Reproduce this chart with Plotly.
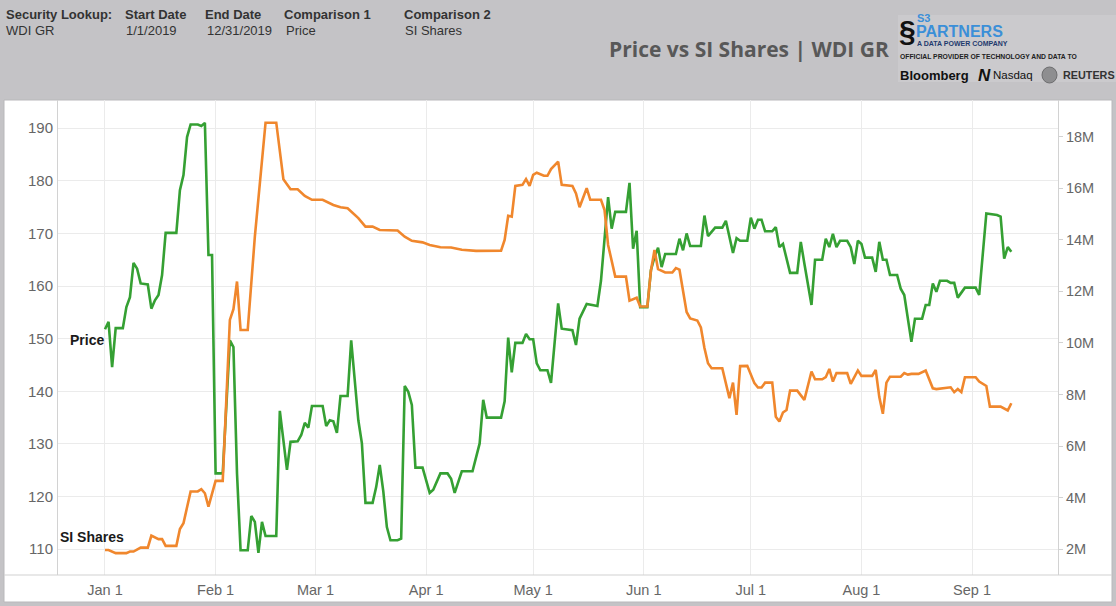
import plotly.graph_objects as go

# ---------------- data ----------------
price_dates = [
    "2019-01-01", "2019-01-02", "2019-01-03", "2019-01-04", "2019-01-06", "2019-01-07", "2019-01-08",
    "2019-01-09", "2019-01-10", "2019-01-11", "2019-01-13", "2019-01-14", "2019-01-15", "2019-01-16",
    "2019-01-17", "2019-01-18", "2019-01-21", "2019-01-22", "2019-01-23", "2019-01-24", "2019-01-25",
    "2019-01-27", "2019-01-28", "2019-01-29", "2019-01-30", "2019-01-31", "2019-02-01", "2019-02-03",
    "2019-02-05", "2019-02-06", "2019-02-07", "2019-02-08", "2019-02-10", "2019-02-11", "2019-02-12",
    "2019-02-13", "2019-02-14", "2019-02-15", "2019-02-18", "2019-02-19", "2019-02-21", "2019-02-22",
    "2019-02-24", "2019-02-25", "2019-02-26", "2019-02-27", "2019-02-28", "2019-03-03", "2019-03-04",
    "2019-03-05", "2019-03-06", "2019-03-07", "2019-03-08", "2019-03-10", "2019-03-11", "2019-03-13",
    "2019-03-14", "2019-03-15", "2019-03-17", "2019-03-18", "2019-03-19", "2019-03-20", "2019-03-21",
    "2019-03-22", "2019-03-24", "2019-03-25", "2019-03-26", "2019-03-27", "2019-03-28", "2019-03-29",
    "2019-03-31", "2019-04-02", "2019-04-03", "2019-04-05", "2019-04-07", "2019-04-08", "2019-04-09",
    "2019-04-11", "2019-04-14", "2019-04-16", "2019-04-17", "2019-04-18", "2019-04-22", "2019-04-23",
    "2019-04-24", "2019-04-25", "2019-04-26", "2019-04-28", "2019-04-29", "2019-04-30", "2019-05-01",
    "2019-05-02", "2019-05-03", "2019-05-05", "2019-05-06", "2019-05-08", "2019-05-09", "2019-05-12",
    "2019-05-13", "2019-05-14", "2019-05-16", "2019-05-19", "2019-05-20", "2019-05-22", "2019-05-23",
    "2019-05-24", "2019-05-27", "2019-05-28", "2019-05-29", "2019-05-30", "2019-05-31", "2019-06-02",
    "2019-06-03", "2019-06-04", "2019-06-05", "2019-06-06", "2019-06-07", "2019-06-10", "2019-06-11",
    "2019-06-12", "2019-06-13", "2019-06-14", "2019-06-17", "2019-06-18", "2019-06-19", "2019-06-21",
    "2019-06-23", "2019-06-24", "2019-06-26", "2019-06-27", "2019-06-28", "2019-06-30", "2019-07-01",
    "2019-07-02", "2019-07-03", "2019-07-04", "2019-07-05", "2019-07-07", "2019-07-08", "2019-07-09",
    "2019-07-10", "2019-07-11", "2019-07-12", "2019-07-14", "2019-07-15", "2019-07-16", "2019-07-18",
    "2019-07-19", "2019-07-21", "2019-07-22", "2019-07-23", "2019-07-24", "2019-07-25", "2019-07-26",
    "2019-07-28", "2019-07-29", "2019-07-30", "2019-07-31", "2019-08-01", "2019-08-02", "2019-08-04",
    "2019-08-05", "2019-08-06", "2019-08-07", "2019-08-08", "2019-08-09", "2019-08-11", "2019-08-12",
    "2019-08-13", "2019-08-15", "2019-08-16", "2019-08-18", "2019-08-19", "2019-08-20", "2019-08-21",
    "2019-08-22", "2019-08-23", "2019-08-25", "2019-08-26", "2019-08-27", "2019-08-28", "2019-08-30",
    "2019-09-02", "2019-09-03", "2019-09-05", "2019-09-08", "2019-09-09", "2019-09-10", "2019-09-11",
    "2019-09-12",
]
price_values = [
    151.8, 153.2, 144.6, 152.0, 152.0, 156.0, 157.9,
    164.4, 163.3, 160.5, 160.3, 155.7, 157.3, 158.3,
    162.1, 170.1, 170.1, 178.2, 181.1, 188.3, 190.7,
    190.7, 190.4, 191.0, 165.9, 165.9, 124.4, 124.4,
    149.7, 148.4, 124.4, 109.8, 109.8, 116.3, 115.2,
    109.3, 115.2, 112.5, 112.5, 136.3, 125.1, 130.4,
    130.5, 131.7, 134.0, 133.1, 137.2, 137.2, 133.4,
    134.5, 134.3, 132.1, 139.1, 139.1, 149.7, 134.5,
    130.1, 118.8, 118.8, 121.8, 126.0, 121.0, 114.2,
    111.7, 111.7, 112.0, 141.0, 139.9, 137.4, 125.5,
    125.5, 120.7, 121.3, 124.4, 124.4, 123.4, 120.7,
    124.8, 124.8, 130.1, 138.4, 135.0, 135.0, 138.1,
    150.2, 143.6, 149.2, 149.2, 150.9, 149.9, 149.9,
    145.3, 144.0, 144.0, 141.6, 156.7, 151.9, 151.6,
    148.8, 153.8, 156.6, 156.2, 161.0, 176.9, 170.9,
    174.1, 174.1, 179.6, 167.1, 170.5, 156.0, 156.0,
    163.0, 165.5, 167.3, 163.6, 166.1, 166.1, 169.0,
    166.8, 170.0, 167.6, 167.6, 173.4, 169.5, 171.1,
    171.1, 172.4, 166.3, 169.1, 168.6, 168.6, 173.0,
    170.9, 172.6, 172.6, 170.4, 170.4, 171.2, 167.4,
    168.0, 165.0, 162.5, 162.5, 168.4, 164.3, 156.4,
    165.0, 165.0, 169.0, 167.4, 169.9, 167.4, 168.6,
    168.6, 167.4, 164.2, 168.6, 168.0, 165.4, 165.4,
    162.7, 168.4, 165.0, 165.0, 162.1, 162.1, 159.5,
    158.3, 149.4, 153.8, 153.8, 156.4, 156.4, 160.5,
    158.9, 161.0, 161.0, 160.6, 160.6, 157.8, 159.7,
    159.7, 158.3, 173.8, 173.5, 173.2, 165.2, 167.4,
    166.5,
]

si_dates = [
    "2019-01-01", "2019-01-02", "2019-01-04", "2019-01-07", "2019-01-08", "2019-01-09", "2019-01-11",
    "2019-01-13", "2019-01-14", "2019-01-16", "2019-01-17", "2019-01-18", "2019-01-21", "2019-01-22",
    "2019-01-23", "2019-01-25", "2019-01-27", "2019-01-28", "2019-01-29", "2019-01-30", "2019-02-01",
    "2019-02-03", "2019-02-05", "2019-02-06", "2019-02-07", "2019-02-08", "2019-02-10", "2019-02-12",
    "2019-02-15", "2019-02-18", "2019-02-20", "2019-02-22", "2019-02-24", "2019-02-26", "2019-02-28",
    "2019-03-03", "2019-03-06", "2019-03-08", "2019-03-10", "2019-03-13", "2019-03-15", "2019-03-17",
    "2019-03-19", "2019-03-24", "2019-03-26", "2019-03-28", "2019-03-31", "2019-04-02", "2019-04-05",
    "2019-04-08", "2019-04-11", "2019-04-15", "2019-04-22", "2019-04-23", "2019-04-24", "2019-04-25",
    "2019-04-26", "2019-04-28", "2019-04-29", "2019-04-30", "2019-05-01", "2019-05-02", "2019-05-04",
    "2019-05-05", "2019-05-06", "2019-05-08", "2019-05-09", "2019-05-12", "2019-05-13", "2019-05-14",
    "2019-05-16", "2019-05-17", "2019-05-20", "2019-05-21", "2019-05-22", "2019-05-24", "2019-05-27",
    "2019-05-28", "2019-05-30", "2019-05-31", "2019-06-02", "2019-06-03", "2019-06-04", "2019-06-05",
    "2019-06-07", "2019-06-09", "2019-06-10", "2019-06-11", "2019-06-13", "2019-06-14", "2019-06-16",
    "2019-06-17", "2019-06-18", "2019-06-19", "2019-06-20", "2019-06-23", "2019-06-25", "2019-06-26",
    "2019-06-27", "2019-06-28", "2019-06-30", "2019-07-02", "2019-07-03", "2019-07-04", "2019-07-05",
    "2019-07-07", "2019-07-08", "2019-07-09", "2019-07-10", "2019-07-11", "2019-07-12", "2019-07-14",
    "2019-07-16", "2019-07-18", "2019-07-19", "2019-07-21", "2019-07-22", "2019-07-23", "2019-07-24",
    "2019-07-25", "2019-07-28", "2019-07-29", "2019-07-31", "2019-08-01", "2019-08-04", "2019-08-05",
    "2019-08-06", "2019-08-07", "2019-08-08", "2019-08-09", "2019-08-12", "2019-08-13", "2019-08-14",
    "2019-08-15", "2019-08-17", "2019-08-19", "2019-08-21", "2019-08-22", "2019-08-26", "2019-08-27",
    "2019-08-28", "2019-08-29", "2019-08-30", "2019-09-02", "2019-09-03", "2019-09-05", "2019-09-06",
    "2019-09-09", "2019-09-11", "2019-09-12",
]
si_values_m = [
    1.97, 1.97, 1.85, 1.85, 1.91, 1.91, 2.06,
    2.06, 2.53, 2.39, 2.39, 2.13, 2.13, 2.78,
    3.01, 4.24, 4.24, 4.33, 4.17, 3.65, 4.65,
    4.65, 10.89, 11.31, 12.38, 10.50, 10.50, 14.12,
    18.54, 18.54, 16.35, 15.96, 15.96, 15.70, 15.55,
    15.55, 15.35, 15.26, 15.22, 14.84, 14.51, 14.51,
    14.38, 14.36, 14.12, 13.96, 13.90, 13.80, 13.71,
    13.70, 13.61, 13.57, 13.58, 13.99, 14.93, 14.90,
    16.09, 16.13, 16.35, 16.09, 16.52, 16.60, 16.48,
    16.48, 16.74, 17.03, 16.13, 16.09, 15.80, 15.26,
    16.00, 15.55, 15.55, 15.15, 13.80, 12.57, 12.57,
    11.64, 11.75, 11.41, 11.41, 12.80, 13.60, 12.86,
    12.73, 12.73, 12.90, 12.84, 11.20, 10.95, 10.87,
    10.60, 9.80, 9.21, 9.02, 9.02, 7.86, 8.46,
    7.21, 9.10, 9.11, 8.44, 8.27, 8.27, 8.46,
    8.46, 7.14, 6.95, 7.30, 7.40, 8.15, 8.15,
    7.79, 8.89, 8.59, 8.59, 8.67, 8.99, 8.50,
    8.83, 8.83, 8.41, 8.93, 8.72, 8.72, 8.95,
    7.90, 7.25, 8.46, 8.69, 8.69, 8.83, 8.77,
    8.80, 8.80, 8.93, 8.24, 8.21, 8.28, 8.09,
    8.21, 8.09, 8.67, 8.67, 8.50, 8.33, 7.53,
    7.53, 7.38, 7.66,
]
si_values = [v * 1e6 for v in si_values_m]

price_ticks = [110, 120, 130, 140, 150, 160, 170, 180, 190]
si_ticks = [2e6, 4e6, 6e6, 8e6, 10e6, 12e6, 14e6, 16e6, 18e6]
si_tick_labels = ["2M", "4M", "6M", "8M", "10M", "12M", "14M", "16M", "18M"]

header_labels = ["Security Lookup:", "Start Date", "End Date", "Comparison 1", "Comparison 2"]
header_values = ["WDI GR", "1/1/2019", "12/31/2019", "Price", "SI Shares"]
chart_title = "Price vs SI Shares | WDI GR"
series_names = ["Price", "SI Shares"]

# ---------------- layout helpers ----------------
W, H = 1116, 606
ML, MR, MT, MB = 58, 58, 100, 31
PW, PH = W - ML - MR, H - MT - MB


def px(x):
    return (x - ML) / PW


def py(y):
    return (H - MB - y) / PH


FONT = "Liberation Sans, Arial, sans-serif"
GREEN = "#35a033"
ORANGE = "#f0872d"

fig = go.Figure()
fig.add_trace(go.Scatter(x=price_dates, y=price_values, mode="lines", name=series_names[0],
                         line=dict(color=GREEN, width=2.6), yaxis="y"))
fig.add_trace(go.Scatter(x=si_dates, y=si_values, mode="lines", name=series_names[1],
                         line=dict(color=ORANGE, width=2.6), yaxis="y2"))

shapes = [
    # white panel
    dict(type="rect", xref="paper", yref="paper", x0=px(4), x1=px(1112), y0=py(602), y1=py(100),
         fillcolor="white", line=dict(color="#b9b8bb", width=1), layer="below"),
    # logo box
    dict(type="rect", xref="paper", yref="paper", x0=px(898), x1=px(1120), y0=py(82), y1=py(15),
         fillcolor="#cbcacd", line=dict(width=0), layer="below"),
    # bottom axis line spanning the panel
    dict(type="line", xref="paper", yref="paper", x0=px(4), x1=px(1112), y0=0, y1=0,
         line=dict(color="#d2d2d2", width=1.2)),
    # reuters circle
    dict(type="circle", xref="paper", yref="paper", x0=px(1042), x1=px(1057), y0=py(83), y1=py(67),
         fillcolor="#8e8e90", line=dict(color="#6d6d6f", width=1)),
]

ann = []
hx = [5, 124, 204, 283, 403]
vx = [5, 125, 206, 285, 404]
for lab, x in zip(header_labels, hx):
    ann.append(dict(text="<b>" + lab + "</b>", x=px(x), y=py(14.5), font=dict(size=13, color="#333333", family=FONT)))
for val, x in zip(header_values, vx):
    ann.append(dict(text=val, x=px(x), y=py(30.5), font=dict(size=13, color="#333333", family=FONT)))

ann.append(dict(text="<b>" + chart_title + "</b>", x=px(608), y=py(49),
                font=dict(size=21, color="#585858", family="Open Sans, sans-serif")))

# logo texts
ann += [
    dict(text="<b>§</b>", x=px(898), y=py(30), font=dict(size=30, color="#111111", family=FONT)),
    dict(text="<b>S3</b>", x=px(916), y=py(18), font=dict(size=11, color="#3b8fd8", family=FONT)),
    dict(text="<b>PARTNERS</b>", x=px(915), y=py(32), font=dict(size=16, color="#3b8fd8", family=FONT)),
    dict(text="<b>A DATA POWER COMPANY</b>", x=px(916), y=py(43.5), font=dict(size=7, color="#1f3a6e", family=FONT)),
    dict(text="<b>OFFICIAL PROVIDER OF TECHNOLOGY AND DATA TO</b>", x=px(899), y=py(56.5),
         font=dict(size=6.8, color="#222222", family=FONT)),
    dict(text="<b>Bloomberg</b>", x=px(899), y=py(75), font=dict(size=13, color="#111111", family=FONT)),
    dict(text="<b><i>N</i></b>", x=px(977), y=py(75), font=dict(size=17, color="#111111", family=FONT)),
    dict(text="Nasdaq", x=px(992), y=py(75), font=dict(size=11.5, color="#111111", family=FONT)),
    dict(text="<b>REUTERS</b>", x=px(1062), y=py(75), font=dict(size=10.8, color="#333333", family=FONT)),
]
for a in ann:
    a.update(xref="paper", yref="paper", xanchor="left", yanchor="middle", showarrow=False, borderpad=0)

# series labels near the start of the lines
ann.append(dict(text="<b>" + series_names[0] + "</b>", x=px(106), y=py(340), xref="paper", yref="paper",
                xanchor="right", yanchor="middle", showarrow=False,
                font=dict(size=14, color="#1a1a1a", family=FONT)))
ann.append(dict(text="<b>" + series_names[1] + "</b>", x=px(126), y=py(537), xref="paper", yref="paper",
                xanchor="right", yanchor="middle", showarrow=False,
                font=dict(size=14, color="#1a1a1a", family=FONT)))

fig.update_layout(
    width=W, height=H,
    margin=dict(l=ML, r=MR, t=MT, b=MB, pad=0, autoexpand=False),
    paper_bgcolor="#c4c3c6",
    plot_bgcolor="white",
    showlegend=False,
    shapes=shapes,
    annotations=ann,
    xaxis=dict(
        type="date",
        range=["2018-12-18 20:00", "2019-09-25 02:00"],
        tick0="2019-01-01", dtick="M1", tickformat="%b %-d",
        showgrid=True, gridcolor="#ebebeb", gridwidth=1,
        showline=False, zeroline=False, ticks="",
        tickfont=dict(size=14.5, color="#666666", family=FONT),
        ticklabelstandoff=4, automargin=False,
    ),
    yaxis=dict(
        range=[105.1, 195.35],
        tickvals=price_ticks,
        showgrid=True, gridcolor="#ebebeb", gridwidth=1,
        showline=True, linecolor="#d2d2d2", linewidth=1,
        zeroline=False, ticks="",
        tickfont=dict(size=15, color="#666666", family=FONT),
        ticklabelstandoff=1, automargin=False,
    ),
    yaxis2=dict(
        overlaying="y", side="right",
        range=[1.0e6, 19.42e6],
        tickvals=si_ticks, ticktext=si_tick_labels,
        showgrid=False,
        showline=True, linecolor="#d2d2d2", linewidth=1,
        zeroline=False, ticks="outside", ticklen=4, tickcolor="#d2d2d2",
        tickfont=dict(size=14.5, color="#666666", family=FONT),
        automargin=False,
    ),
)

fig.write_html("out.html", config={"displayModeBar": False},
               post_script="document.body.style.margin='0';document.body.style.overflow='hidden';")
